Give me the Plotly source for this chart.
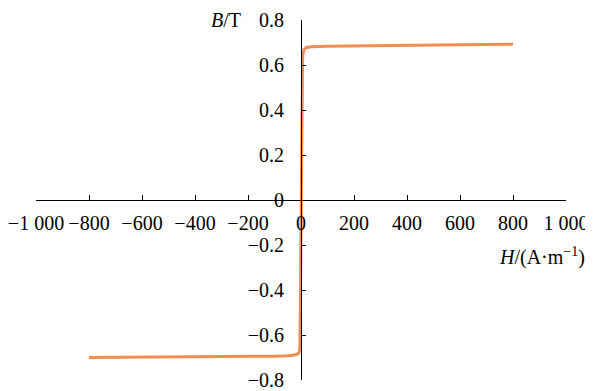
import plotly.graph_objects as go

# Magnetisation curve B(H)
H = [-800, -600, -400, -200, -100, -50, -25, -12, -6, -4, -2, 0, 2, 4, 6, 8, 12, 20, 40, 100, 200, 400, 600, 800]
B = [-0.700, -0.699, -0.698, -0.696, -0.694, -0.692, -0.689, -0.684, -0.675, -0.650, -0.400, -0.050,
     0.300, 0.550, 0.630, 0.655, 0.670, 0.678, 0.681, 0.683, 0.685, 0.688, 0.690, 0.692]

x_ticks = [-1000, -800, -600, -400, -200, 0, 200, 400, 600, 800, 1000]
x_text = ["\u22121 000", "\u2212800", "\u2212600", "\u2212400", "\u2212200", "0", "200", "400", "600", "800", "1 000"]
y_ticks = [0.8, 0.6, 0.4, 0.2, 0, -0.2, -0.4, -0.6, -0.8]
y_text = ["0.8", "0.6", "0.4", "0.2", "0", "\u22120.2", "\u22120.4", "\u22120.6", "\u22120.8"]

FONT = "Liberation Serif"
FS = 20
fig = go.Figure()
fig.add_trace(go.Scatter(x=H, y=B, mode="lines",
                         line=dict(color="rgb(241,140,82)", width=3), showlegend=False))

# page body has an 8px margin, so the figure is 8px smaller and margins shifted
fig.update_layout(
    width=585, height=383,
    margin=dict(l=28, r=27, t=12, b=11),
    paper_bgcolor="white", plot_bgcolor="white",
    font=dict(family=FONT, size=FS, color="black"),
    xaxis=dict(range=[-1000, 1000], tickvals=x_ticks, ticktext=x_text, tickangle=0,
               showline=True, linecolor="black", linewidth=1,
               ticks="inside", ticklen=5, tickcolor="black", tickwidth=1,
               showgrid=False, zeroline=False, anchor="free", position=0.5,
               automargin=False, ticklabelstandoff=5, ticklabeloverflow="allow"),
    yaxis=dict(range=[-0.8, 0.8], tickvals=y_ticks, ticktext=y_text,
               showline=True, linecolor="black", linewidth=1,
               ticks="inside", ticklen=4, tickcolor="black", tickwidth=1,
               showgrid=False, zeroline=False, anchor="free", position=0.5,
               automargin=False, ticklabelstandoff=13, ticklabeloverflow="allow"),
    annotations=[
        dict(text="<i>B</i>/T", xref="paper", yref="paper", x=0.3906, y=1.0,
             xanchor="right", yanchor="middle", showarrow=False,
             font=dict(family=FONT, size=FS)),
        dict(text="<i>H</i>/(A\u00b7m<sup>\u22121</sup>)", xref="paper", yref="paper",
             x=1.0396, y=0.3417, xanchor="right", yanchor="middle", showarrow=False,
             font=dict(family=FONT, size=FS)),
    ],
)

fig.write_html("out.html")
